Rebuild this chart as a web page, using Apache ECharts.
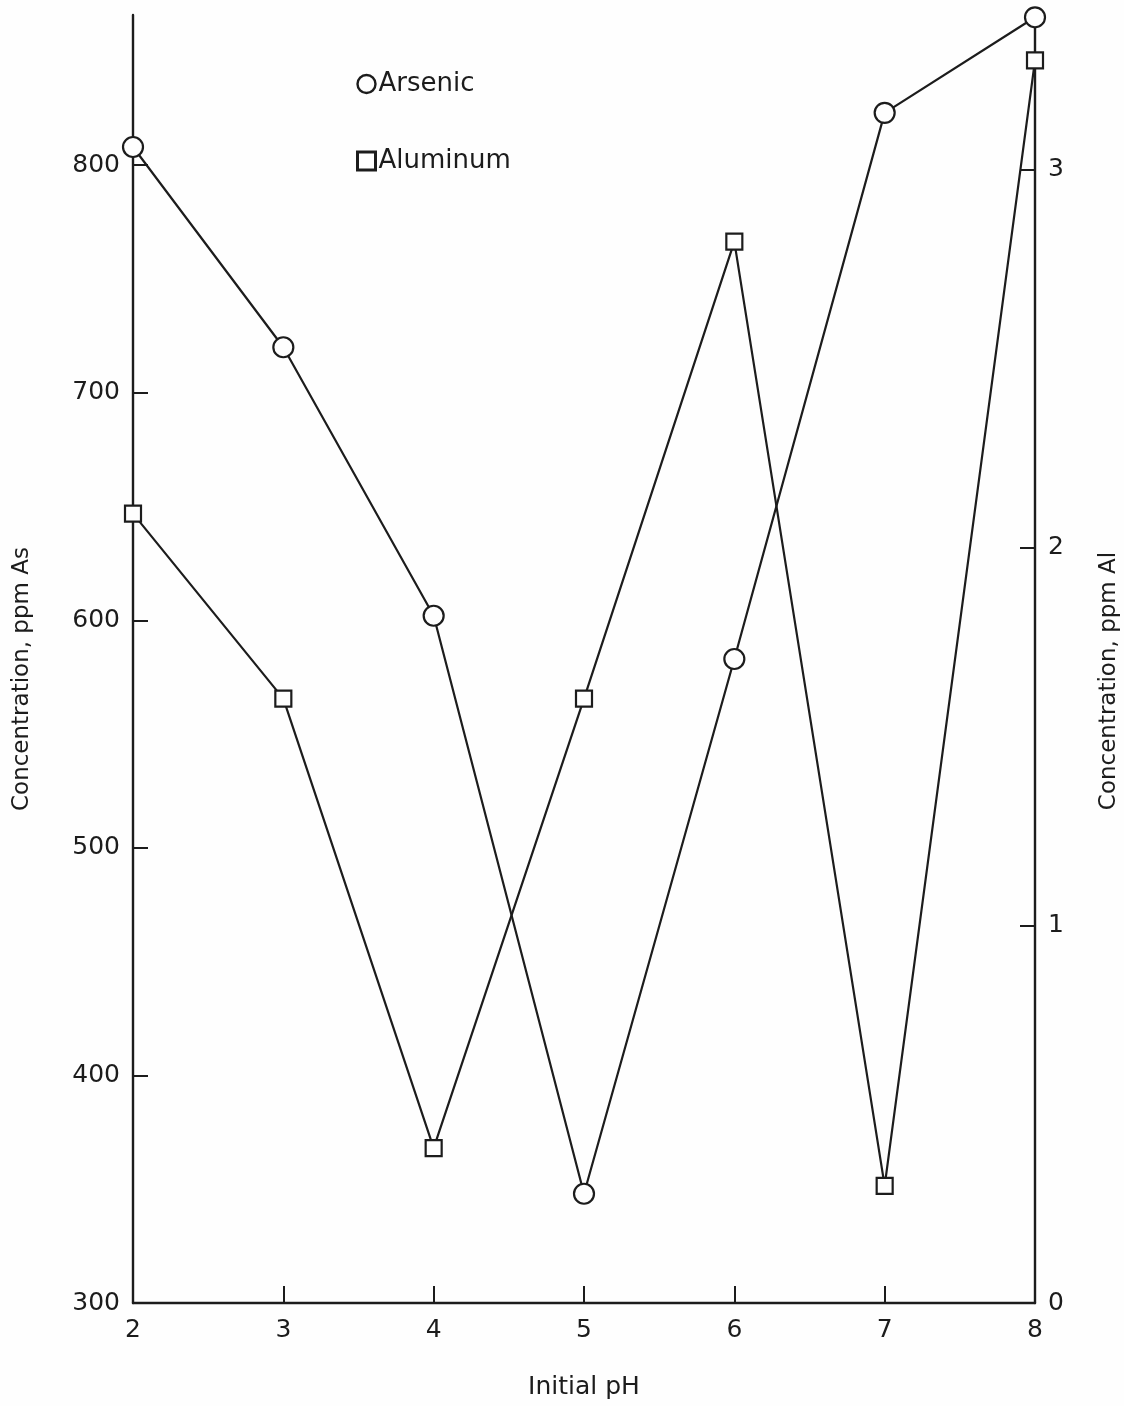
<!DOCTYPE html>
<html>
<head>
<meta charset="utf-8">
<title>Arsenic and Aluminum vs Initial pH</title>
<script src="https://cdn.jsdelivr.net/npm/echarts@6/dist/echarts.min.js"></script>
<style>
  html, body { margin: 0; padding: 0; background: #fefefe; }
  #chart { width: 1124px; height: 1406px; }
</style>
</head>
<body>
<div id="chart"></div>
<script>
// Initial pH values (x axis)
const phValues = [2, 3, 4, 5, 6, 7, 8];
// Arsenic concentration, ppm As (left axis)
const arsenic = [808, 720, 602, 348, 583, 823, 865];
// Aluminum concentration, ppm Al (right axis)
const aluminum = [2.09, 1.60, 0.41, 1.60, 2.81, 0.31, 3.29];
// Tick labels
const asTicks = [300, 400, 500, 600, 700, 800];
const alTicks = [0, 1, 2, 3];
const phTicks = [2, 3, 4, 5, 6, 7, 8];

const ink = '#1c1c1c';
const font = 'DejaVu Sans, Liberation Sans, sans-serif';

const chart = echarts.init(document.getElementById('chart'), null, { renderer: 'canvas' });

chart.setOption({
  backgroundColor: '#fefefe',
  animation: false,
  grid: { left: 133, right: 89, top: 15, bottom: 103, containLabel: false, outerBoundsMode: 'none' },
  legend: {
    orient: 'vertical',
    left: 351,
    top: 66,
    itemGap: 51,
    itemWidth: 18,
    itemHeight: 18,
    textStyle: { color: ink, fontSize: 26, fontFamily: font, padding: [0, 0, 0, -2] },
    data: [
      { name: 'Arsenic', icon: 'circle', itemStyle: { color: '#fefefe', borderColor: ink, borderWidth: 2.4 } },
      { name: 'Aluminum', icon: 'rect', itemStyle: { color: '#fefefe', borderColor: ink, borderWidth: 3 } }
    ]
  },
  xAxis: {
    type: 'value',
    min: 2,
    max: 8,
    interval: 1,
    name: 'Initial pH',
    nameLocation: 'middle',
    nameGap: 72,
    nameTextStyle: { color: ink, fontSize: 25, fontFamily: font },
    axisLine: { show: true, onZero: false, lineStyle: { color: ink, width: 2.4 } },
    axisTick: { show: true, inside: true, length: 17, lineStyle: { color: ink, width: 2 },
      customValues: phTicks.slice(1, -1) },
    axisLabel: { color: ink, fontSize: 25, fontFamily: font, margin: 15, customValues: phTicks },
    splitLine: { show: false }
  },
  yAxis: [
    {
      type: 'value',
      position: 'left',
      min: 300,
      max: 866,
      name: 'Concentration, ppm As',
      nameLocation: 'middle',
      nameRotate: 90,
      nameGap: 99,
      nameTextStyle: { color: ink, fontSize: 23, fontFamily: font, padding: [0, 40, 0, 0] },
      axisLine: { show: true, onZero: false, lineStyle: { color: ink, width: 2.4 } },
      axisTick: { show: true, inside: true, length: 15, lineStyle: { color: ink, width: 2 },
        customValues: asTicks.slice(1) },
      axisLabel: { color: ink, fontSize: 25, fontFamily: font, margin: 13, customValues: asTicks },
      splitLine: { show: false }
    },
    {
      type: 'value',
      position: 'right',
      min: 0,
      max: 3.41,
      name: 'Concentration, ppm Al',
      nameLocation: 'middle',
      nameRotate: 90,
      nameGap: 63,
      nameTextStyle: { color: ink, fontSize: 23, fontFamily: font, padding: [0, 44, 0, 0] },
      axisLine: { show: true, onZero: false, lineStyle: { color: ink, width: 2.4 } },
      axisTick: { show: true, inside: true, length: 15, lineStyle: { color: ink, width: 2 },
        customValues: alTicks.slice(1) },
      axisLabel: { color: ink, fontSize: 25, fontFamily: font, margin: 13, customValues: alTicks },
      splitLine: { show: false }
    }
  ],
  series: [
    {
      name: 'Arsenic',
      type: 'line',
      yAxisIndex: 0,
      data: phValues.map((p, i) => [p, arsenic[i]]),
      symbol: 'circle',
      symbolSize: 20,
      showAllSymbol: true,
      clip: false,
      lineStyle: { color: ink, width: 2.2 },
      itemStyle: { color: '#fefefe', borderColor: ink, borderWidth: 2.2 },
      z: 3
    },
    {
      name: 'Aluminum',
      type: 'line',
      yAxisIndex: 1,
      data: phValues.map((p, i) => [p, aluminum[i]]),
      symbol: 'rect',
      symbolSize: 16,
      showAllSymbol: true,
      clip: false,
      lineStyle: { color: ink, width: 2.2 },
      itemStyle: { color: '#fefefe', borderColor: ink, borderWidth: 2.2 },
      z: 2
    }
  ]
});
</script>
</body>
</html>
